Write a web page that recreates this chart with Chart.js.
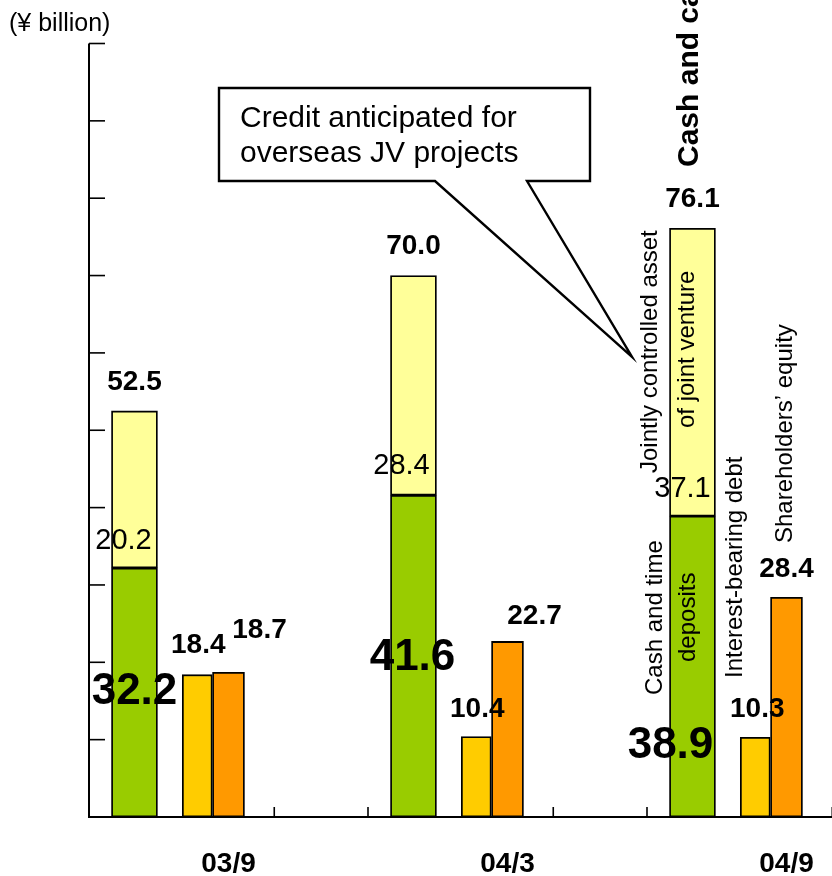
<!DOCTYPE html>
<html>
<head>
<meta charset="utf-8">
<script src="https://cdn.jsdelivr.net/npm/chart.js@4.4.1/dist/chart.umd.min.js"></script>
<style>
  html, body { margin: 0; padding: 0; overflow: hidden; background: #fff; }
  #wrap { position: relative; width: 940px; height: 876px; }
</style>
</head>
<body>
<div id="wrap"><canvas id="chart"></canvas></div>
<script>
// Period labels and balances (¥ billion)
const categories   = ['03/9', '04/3', '04/9'];
const cashDeposits = [32.2, 41.6, 38.9];   // cash and time deposits
const jointAssets  = [20.2, 28.4, 37.1];   // jointly controlled asset of joint venture
const totalAssets  = [52.5, 70.0, 76.1];   // cash plus joint-venture asset
const interestDebt = [18.4, 10.4, 10.3];   // interest-bearing debt
const equity       = [18.7, 22.7, 28.4];   // shareholders' equity

// Bar placement inside each period slot (fraction of the slot) and bar widths
const SLOT = { stacked: 0.163, debt: 0.388, equity: 0.5 };
const WIDTH = { stacked: 46, debt: 30, equity: 32 };

const FONT = '"Liberation Sans", Arial, Helvetica, sans-serif';
const BOLD_NUM = 'bold 28px ' + FONT;
const BIG_NUM = 'bold 44px ' + FONT;
const SEG_NUM = '29px ' + FONT;
const ROT = '24px ' + FONT;

// Label nudges in pixels (dx, dy from the anchoring bar end)
const totalNudge  = [[0, -21], [0, -22], [0, -21]];
const segNudge    = [[-11, -19], [-12, -21], [-10, -19]];
const bigBaseline = [-113, -147, -59];          // above the axis line
const bigDx       = [0, -1, -22];
const debtNudge   = [[1, -22], [1, -20], [2, -20]];
const equityNudge = [[31, -34], [27, -17], [0, -20]];

const pts = (vals, key) => vals.map((v, i) => ({ x: i + SLOT[key], y: v }));

function text(ctx, s, x, y, font, align) {
  ctx.font = font;
  ctx.textAlign = align || 'center';
  ctx.textBaseline = 'alphabetic';
  ctx.fillStyle = '#000';
  ctx.fillText(s, x, y);
}
function vtext(ctx, s, x, y, font) {
  ctx.save();
  ctx.translate(x, y);
  ctx.rotate(-Math.PI / 2);
  ctx.font = font;
  ctx.textAlign = 'left';
  ctx.textBaseline = 'middle';
  ctx.fillStyle = '#000';
  ctx.fillText(s, 0, 0);
  ctx.restore();
}

const decorations = {
  id: 'decorations',
  afterDatasetsDraw(chart) {
    const ctx = chart.ctx;
    const xs = chart.scales.x, ys = chart.scales.y;
    const area = chart.chartArea;
    const X = v => xs.getPixelForValue(v);
    const Y = v => ys.getPixelForValue(v);
    ctx.save();

    // value axis with inward tick marks
    ctx.strokeStyle = '#000';
    ctx.lineWidth = 2;
    ctx.beginPath();
    ctx.moveTo(area.left, area.top);
    ctx.lineTo(area.left, area.bottom + 1);
    ctx.stroke();
    ctx.lineWidth = 1.6;
    ys.ticks.forEach(t => {
      const y = Y(t.value);
      ctx.beginPath();
      ctx.moveTo(area.left, y);
      ctx.lineTo(area.left + 16, y);
      ctx.stroke();
    });

    // category axis with upward tick marks
    ctx.lineWidth = 2;
    ctx.beginPath();
    ctx.moveTo(area.left - 1, area.bottom);
    ctx.lineTo(area.right, area.bottom);
    ctx.stroke();
    ctx.lineWidth = 1.6;
    categories.forEach((c, i) => {
      [i, i + 0.664].forEach(v => {
        const x = X(v);
        ctx.beginPath();
        ctx.moveTo(x, area.bottom);
        ctx.lineTo(x, area.bottom - 10);
        ctx.stroke();
      });
      text(ctx, c, X(i + 0.5), area.bottom + 55, 'bold 28px ' + FONT);
    });

    text(ctx, '(¥ billion)', 9, 31, '25px ' + FONT, 'left');

    // value labels
    categories.forEach((c, i) => {
      const xs0 = X(i + SLOT.stacked);
      text(ctx, totalAssets[i].toFixed(1), xs0 + totalNudge[i][0], Y(totalAssets[i]) + totalNudge[i][1], BOLD_NUM);
      text(ctx, jointAssets[i].toFixed(1), xs0 + segNudge[i][0], Y(cashDeposits[i]) + segNudge[i][1], SEG_NUM);
      text(ctx, cashDeposits[i].toFixed(1), xs0 + bigDx[i], Y(0) + bigBaseline[i], BIG_NUM);
      const xd = X(i + SLOT.debt);
      text(ctx, interestDebt[i].toFixed(1), xd + debtNudge[i][0], Y(interestDebt[i]) + debtNudge[i][1], BOLD_NUM);
      const xe = X(i + SLOT.equity);
      text(ctx, equity[i].toFixed(1), xe + equityNudge[i][0], Y(equity[i]) + equityNudge[i][1], BOLD_NUM);
    });

    // series names written vertically beside the last period
    vtext(ctx, 'Jointly controlled asset', 650, 473, ROT);
    vtext(ctx, 'of joint venture', 687, 428, ROT);
    vtext(ctx, 'Cash and time', 655, 695, ROT);
    vtext(ctx, 'deposits', 688, 662, ROT);
    vtext(ctx, 'Interest-bearing debt', 735, 678, ROT);
    vtext(ctx, 'Shareholders\u2019 equity', 785, 543, ROT);
    vtext(ctx, 'Cash and cash', 690, 167, 'bold 30px ' + FONT);

    // callout box with pointer
    ctx.beginPath();
    ctx.moveTo(219, 88);
    ctx.lineTo(590, 88);
    ctx.lineTo(590, 181);
    ctx.lineTo(527, 181);
    ctx.lineTo(632, 357);
    ctx.lineTo(435, 181);
    ctx.lineTo(219, 181);
    ctx.closePath();
    ctx.fillStyle = '#fff';
    ctx.fill();
    ctx.lineWidth = 2.4;
    ctx.lineJoin = 'miter';
    ctx.strokeStyle = '#000';
    ctx.stroke();
    text(ctx, 'Credit anticipated for', 240, 127, '30px ' + FONT, 'left');
    text(ctx, 'overseas JV projects', 240, 162, '30px ' + FONT, 'left');

    ctx.restore();
  }
};

const barBase = { grouped: true, stack: 'one', borderColor: '#000', borderWidth: 1.8, borderSkipped: false };

new Chart(document.getElementById('chart'), {
  type: 'bar',
  data: {
    datasets: [
      Object.assign({}, barBase, {
        label: 'Cash and time deposits',
        data: pts(cashDeposits, 'stacked'),
        backgroundColor: '#99CC00',
        barThickness: WIDTH.stacked
      }),
      Object.assign({}, barBase, {
        label: 'Jointly controlled asset of joint venture',
        data: categories.map((c, i) => ({ x: i + SLOT.stacked, y: [cashDeposits[i], totalAssets[i]] })),
        backgroundColor: '#FFFF99',
        barThickness: WIDTH.stacked
      }),
      Object.assign({}, barBase, {
        label: 'Interest-bearing debt',
        data: pts(interestDebt, 'debt'),
        backgroundColor: '#FFCC00',
        barThickness: WIDTH.debt
      }),
      Object.assign({}, barBase, {
        label: 'Shareholders\u2019 equity',
        data: pts(equity, 'equity'),
        backgroundColor: '#FF9900',
        barThickness: WIDTH.equity
      })
    ]
  },
  options: {
    responsive: true,
    maintainAspectRatio: false,
    animation: false,
    layout: { padding: { left: 89, right: 14, top: 43.5, bottom: 59 } },
    plugins: { legend: { display: false }, tooltip: { enabled: false } },
    scales: {
      x: { type: 'linear', min: 0, max: 3, offset: false, display: false },
      y: { min: 0, max: 100, stacked: false, ticks: { stepSize: 10 }, display: false }
    }
  },
  plugins: [decorations]
});
</script>
</body>
</html>
